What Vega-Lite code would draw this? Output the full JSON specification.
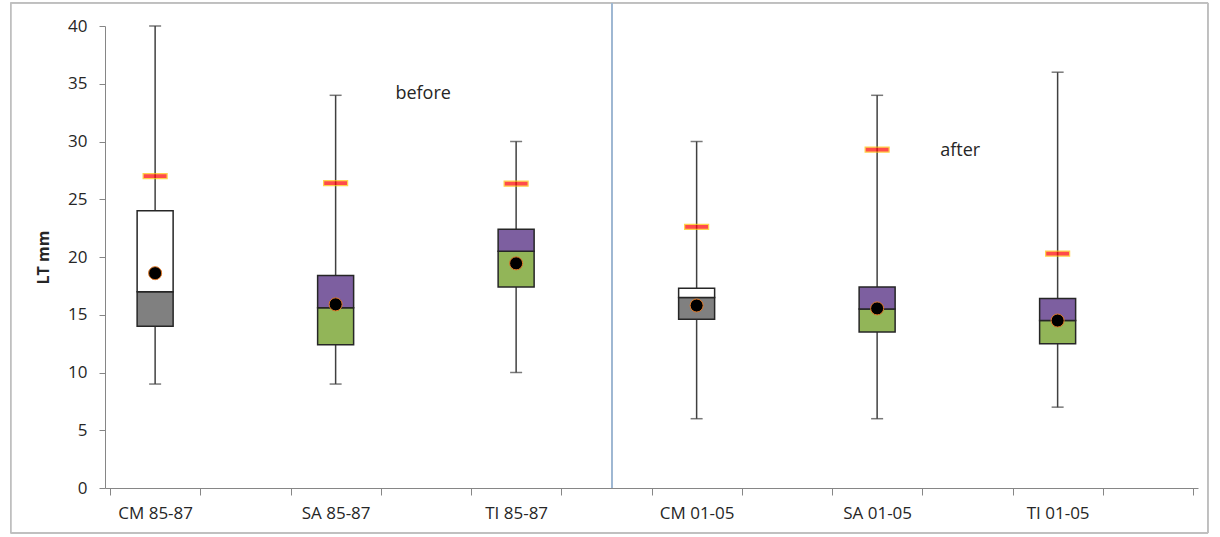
{
  "$schema": "https://vega.github.io/schema/vega-lite/v6.json",
  "width": 1093,
  "height": 462,
  "autosize": {"type": "none"},
  "padding": {"left": 105, "top": 26, "right": 22, "bottom": 49},
  "background": "white",
  "config": {"view": {"stroke": null}, "font": "Open Sans"},
  "data": {
    "values": [
      {"label": "CM 85-87", "site": "CM", "slot": 0.5, "low": 9, "q1": 14.0, "median": 17.0, "q3": 24.0, "high": 40, "mean": 18.6, "marker": 27.0},
      {"label": "SA 85-87", "site": "SA", "slot": 2.5, "low": 9, "q1": 12.4, "median": 15.6, "q3": 18.4, "high": 34, "mean": 15.9, "marker": 26.4},
      {"label": "TI 85-87", "site": "TI", "slot": 4.5, "low": 10, "q1": 17.4, "median": 20.5, "q3": 22.4, "high": 30, "mean": 19.45, "marker": 26.35},
      {"label": "CM 01-05", "site": "CM", "slot": 6.5, "low": 6, "q1": 14.6, "median": 16.5, "q3": 17.3, "high": 30, "mean": 15.8, "marker": 22.6},
      {"label": "SA 01-05", "site": "SA", "slot": 8.5, "low": 6, "q1": 13.5, "median": 15.5, "q3": 17.4, "high": 34, "mean": 15.55, "marker": 29.3},
      {"label": "TI 01-05", "site": "TI", "slot": 10.5, "low": 7, "q1": 12.5, "median": 14.5, "q3": 16.4, "high": 36, "mean": 14.5, "marker": 20.3}
    ]
  },
  "encoding": {
    "x": {
      "field": "slot",
      "type": "quantitative",
      "scale": {"domain": [0, 12], "nice": false, "zero": false},
      "axis": {
        "title": null,
        "grid": false,
        "values": [0, 0.5, 1, 2, 2.5, 3, 4, 4.5, 5, 6, 6.5, 7, 8, 8.5, 9, 10, 10.5, 11, 12],
        "labelExpr": "datum.value == 0.5 ? 'CM 85-87' : datum.value == 2.5 ? 'SA 85-87' : datum.value == 4.5 ? 'TI 85-87' : datum.value == 6.5 ? 'CM 01-05' : datum.value == 8.5 ? 'SA 01-05' : datum.value == 10.5 ? 'TI 01-05' : ''",
        "labelOverlap": false,
        "labelFlush": false,
        "labelFontSize": 17,
        "labelColor": "#262626",
        "labelPadding": 10,
        "tickSize": 7,
        "tickColor": "#868686",
        "tickOpacity": {"condition": {"test": "datum.value % 1 != 0", "value": 0}, "value": 1},
        "domainColor": "#868686",
        "domainWidth": 1
      }
    }
  },
  "layer": [
    {
      "mark": {"type": "rect", "fill": null, "stroke": "#bfbfbf", "strokeWidth": 1},
      "encoding": {
        "x": {"datum": -1.1, "type": "quantitative"},
        "x2": {"datum": 12.165},
        "y": {"datum": -3.9, "type": "quantitative"},
        "y2": {"datum": 42.0}
      }
    },
    {
      "mark": {"type": "rule", "color": "#9fb8d2", "strokeWidth": 1.5},
      "encoding": {
        "x": {"datum": 5.56, "type": "quantitative"},
        "y": {"datum": 0, "type": "quantitative"},
        "y2": {"datum": 42.0}
      }
    },
    {
      "mark": {"type": "rule", "color": "#404040", "strokeWidth": 1.5},
      "encoding": {
        "y": {
          "field": "low",
          "type": "quantitative",
          "scale": {"domain": [0, 40], "nice": false},
          "axis": {
            "title": "LT mm",
            "titleFontSize": 16,
            "titleFontWeight": "bold",
            "titleColor": "#262626",
            "titlePadding": 16,
            "grid": false,
            "values": [0, 5, 10, 15, 20, 25, 30, 35, 40],
            "labelFontSize": 17,
            "labelColor": "#262626",
            "labelPadding": 12,
            "tickSize": 6,
            "tickColor": "#868686",
            "domainColor": "#868686"
          }
        },
        "y2": {"field": "high"}
      }
    },
    {
      "mark": {"type": "tick", "orient": "horizontal", "color": "#404040", "size": 12, "thickness": 1.5},
      "encoding": {"y": {"field": "low", "type": "quantitative"}}
    },
    {
      "mark": {"type": "tick", "orient": "horizontal", "color": "#404040", "size": 12, "thickness": 1.5},
      "encoding": {"y": {"field": "high", "type": "quantitative"}}
    },
    {
      "mark": {"type": "bar", "size": 36, "stroke": "#262626", "strokeWidth": 1.5},
      "encoding": {
        "y": {"field": "q1", "type": "quantitative"},
        "y2": {"field": "median"},
        "fill": {"condition": {"test": "datum.site == 'CM'", "value": "#808080"}, "value": "#92b558"}
      }
    },
    {
      "mark": {"type": "bar", "size": 36, "stroke": "#262626", "strokeWidth": 1.5},
      "encoding": {
        "y": {"field": "median", "type": "quantitative"},
        "y2": {"field": "q3"},
        "fill": {"condition": {"test": "datum.site == 'CM'", "value": "#ffffff"}, "value": "#7d5fa0"}
      }
    },
    {
      "mark": {"type": "tick", "orient": "horizontal", "color": "#ff0000", "size": 24, "thickness": 5, "stroke": "#ffc000", "strokeWidth": 1.2},
      "encoding": {"y": {"field": "marker", "type": "quantitative"}}
    },
    {
      "mark": {"type": "point", "filled": true, "shape": "circle", "size": 170, "fill": "#000000", "stroke": "#e07a2a", "strokeWidth": 1, "opacity": 1},
      "encoding": {"y": {"field": "mean", "type": "quantitative"}}
    },
    {
      "data": {"values": [{"text": "before", "xpos": 3.47, "ypos": 34.1}, {"text": "after", "xpos": 9.42, "ypos": 29.2}]},
      "mark": {"type": "text", "fontSize": 18, "color": "#262626", "align": "center", "baseline": "middle"},
      "encoding": {
        "x": {"field": "xpos", "type": "quantitative"},
        "y": {"field": "ypos", "type": "quantitative"},
        "text": {"field": "text"}
      }
    }
  ]
}
